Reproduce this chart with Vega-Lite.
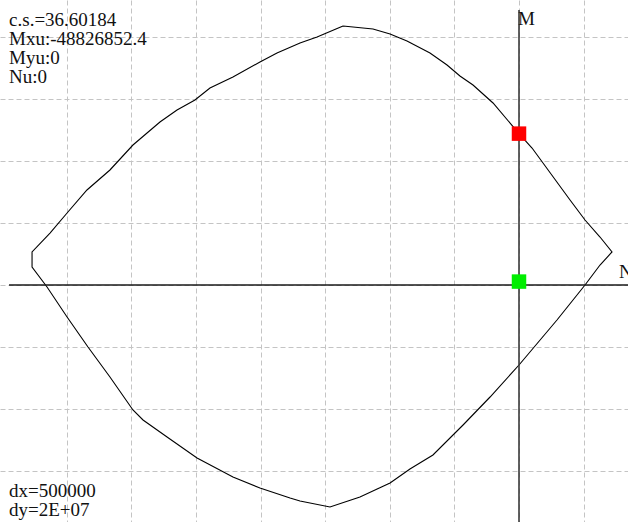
{
  "$schema": "https://vega.github.io/schema/vega-lite/v6.json",
  "width": 628,
  "height": 522,
  "padding": 0,
  "autosize": {"type": "none"},
  "background": "white",
  "config": {
    "view": {"stroke": null},
    "axis": {
      "grid": true, "gridDash": [5, 3], "gridColor": "#c4c4c4", "gridWidth": 1, "gridOpacity": 1,
      "labels": false, "ticks": false, "domain": false
    }
  },
  "datasets": {
    "curve": [
      {"i": 1, "N": -1362000, "M": 83550000},
      {"i": 2, "N": -1130000, "M": 82580000},
      {"i": 3, "N": -998000, "M": 80970000},
      {"i": 4, "N": -867000, "M": 78710000},
      {"i": 5, "N": -689000, "M": 74840000},
      {"i": 6, "N": -557000, "M": 70970000},
      {"i": 7, "N": -457000, "M": 67420000},
      {"i": 8, "N": -356000, "M": 64520000},
      {"i": 9, "N": -201000, "M": 58710000},
      {"i": 10, "N": 0, "M": 48830000},
      {"i": 11, "N": 101000, "M": 44190000},
      {"i": 13, "N": 395000, "M": 27420000},
      {"i": 14, "N": 511000, "M": 20970000},
      {"i": 15, "N": 627000, "M": 15480000},
      {"i": 16, "N": 720000, "M": 10650000},
      {"i": 17, "N": 627000, "M": 6450000},
      {"i": 18, "N": 511000, "M": 0},
      {"i": 19, "N": 294000, "M": -11290000},
      {"i": 20, "N": 85000, "M": -21610000},
      {"i": 21, "N": 0, "M": -25810000},
      {"i": 22, "N": -224000, "M": -36130000},
      {"i": 23, "N": -433000, "M": -45160000},
      {"i": 24, "N": -666000, "M": -54840000},
      {"i": 25, "N": -844000, "M": -59350000},
      {"i": 26, "N": -998000, "M": -63870000},
      {"i": 27, "N": -1231000, "M": -68390000},
      {"i": 28, "N": -1463000, "M": -71610000},
      {"i": 29, "N": -1695000, "M": -69680000},
      {"i": 30, "N": -1772000, "M": -68710000},
      {"i": 31, "N": -2005000, "M": -65480000},
      {"i": 32, "N": -2214000, "M": -61940000},
      {"i": 33, "N": -2492000, "M": -55810000},
      {"i": 34, "N": -2724000, "M": -49030000},
      {"i": 35, "N": -2910000, "M": -43550000},
      {"i": 36, "N": -2988000, "M": -40320000},
      {"i": 37, "N": -3166000, "M": -29680000},
      {"i": 38, "N": -3336000, "M": -20000000},
      {"i": 39, "N": -3498000, "M": -10320000},
      {"i": 40, "N": -3653000, "M": -650000},
      {"i": 41, "N": -3769000, "M": 5810000},
      {"i": 42, "N": -3769000, "M": 10650000},
      {"i": 43, "N": -3630000, "M": 16770000},
      {"i": 44, "N": -3498000, "M": 23230000},
      {"i": 45, "N": -3344000, "M": 30650000},
      {"i": 46, "N": -3166000, "M": 37100000},
      {"i": 47, "N": -2988000, "M": 45160000},
      {"i": 48, "N": -2779000, "M": 52580000},
      {"i": 49, "N": -2647000, "M": 56450000},
      {"i": 50, "N": -2508000, "M": 59680000},
      {"i": 51, "N": -2392000, "M": 63550000},
      {"i": 52, "N": -2214000, "M": 67100000},
      {"i": 53, "N": -2005000, "M": 71940000},
      {"i": 54, "N": -1873000, "M": 74840000},
      {"i": 55, "N": -1695000, "M": 78060000},
      {"i": 56, "N": -1563000, "M": 80000000},
      {"i": 57, "N": -1362000, "M": 83550000}
    ],
    "points": [
      {"kind": "Mxu", "N": 0, "M": 48826852.4},
      {"kind": "Nu", "N": 0, "M": 1100000}
    ],
    "infoTop": [{"text": "c.s.=36.60184\nMxu:-48826852.4\nMyu:0\nNu:0"}],
    "infoBottom": [{"text": "dx=500000\ndy=2E+07"}],
    "labelM": [{"text": "M"}],
    "labelN": [{"text": "N"}]
  },
  "encoding": {
    "x": {
      "type": "quantitative",
      "scale": {"domain": [-4017060, 843660], "nice": false, "zero": false},
      "axis": {"values": [-3500000, -3000000, -2500000, -2000000, -1500000, -1000000, -500000, 0, 500000], "title": null}
    },
    "y": {
      "type": "quantitative",
      "scale": {"domain": [-76451697, 91935585], "nice": false, "zero": false},
      "axis": {"values": [-60000000, -40000000, -20000000, 0, 20000000, 40000000, 60000000, 80000000], "title": null}
    }
  },
  "layer": [
    {
      "data": {"name": "curve"},
      "mark": {"type": "line", "color": "black", "strokeWidth": 1.1, "interpolate": "linear"},
      "encoding": {
        "x": {"field": "N", "type": "quantitative"},
        "y": {"field": "M", "type": "quantitative"},
        "order": {"field": "i", "type": "quantitative"}
      }
    },
    {
      "data": {"values": [{"axis": "N"}]},
      "mark": {"type": "rule", "color": "#1a1a1a", "strokeWidth": 1.4},
      "encoding": {
        "x": {"datum": -3947000, "type": "quantitative"},
        "x2": {"datum": 900000},
        "y": {"datum": 0, "type": "quantitative"}
      }
    },
    {
      "data": {"values": [{"axis": "M"}]},
      "mark": {"type": "rule", "color": "#3a3a3a", "strokeWidth": 1.6},
      "encoding": {
        "x": {"datum": 0, "type": "quantitative"},
        "y": {"datum": 88710000, "type": "quantitative"},
        "y2": {"datum": -80000000}
      }
    },
    {
      "data": {"name": "points"},
      "mark": {"type": "point", "shape": "square", "filled": true, "size": 210, "opacity": 1, "strokeWidth": 0},
      "encoding": {
        "x": {"field": "N", "type": "quantitative"},
        "y": {"field": "M", "type": "quantitative"},
        "color": {"field": "kind", "type": "nominal", "scale": {"domain": ["Mxu", "Nu"], "range": ["#ff0000", "#00ee00"]}, "legend": null}
      }
    },
    {
      "data": {"name": "infoTop"},
      "mark": {"type": "text", "align": "left", "baseline": "alphabetic", "font": "Liberation Serif", "fontSize": 19, "lineBreak": "\n", "lineHeight": 19, "color": "#111111"},
      "encoding": {
        "x": {"datum": -3947000, "type": "quantitative"},
        "y": {"datum": 83550000, "type": "quantitative"},
        "text": {"field": "text"}
      }
    },
    {
      "data": {"name": "infoBottom"},
      "mark": {"type": "text", "align": "left", "baseline": "alphabetic", "font": "Liberation Serif", "fontSize": 19, "lineBreak": "\n", "lineHeight": 19, "color": "#111111"},
      "encoding": {
        "x": {"datum": -3947000, "type": "quantitative"},
        "y": {"datum": -68390000, "type": "quantitative"},
        "text": {"field": "text"}
      }
    },
    {
      "data": {"name": "labelM"},
      "mark": {"type": "text", "align": "left", "baseline": "alphabetic", "font": "Liberation Serif", "fontSize": 19, "color": "#111111"},
      "encoding": {
        "x": {"datum": -8000, "type": "quantitative"},
        "y": {"datum": 83870000, "type": "quantitative"},
        "text": {"field": "text"}
      }
    },
    {
      "data": {"name": "labelN"},
      "mark": {"type": "text", "align": "left", "baseline": "alphabetic", "font": "Liberation Serif", "fontSize": 19, "color": "#111111"},
      "encoding": {
        "x": {"datum": 774000, "type": "quantitative"},
        "y": {"datum": 2258000, "type": "quantitative"},
        "text": {"field": "text"}
      }
    }
  ]
}
